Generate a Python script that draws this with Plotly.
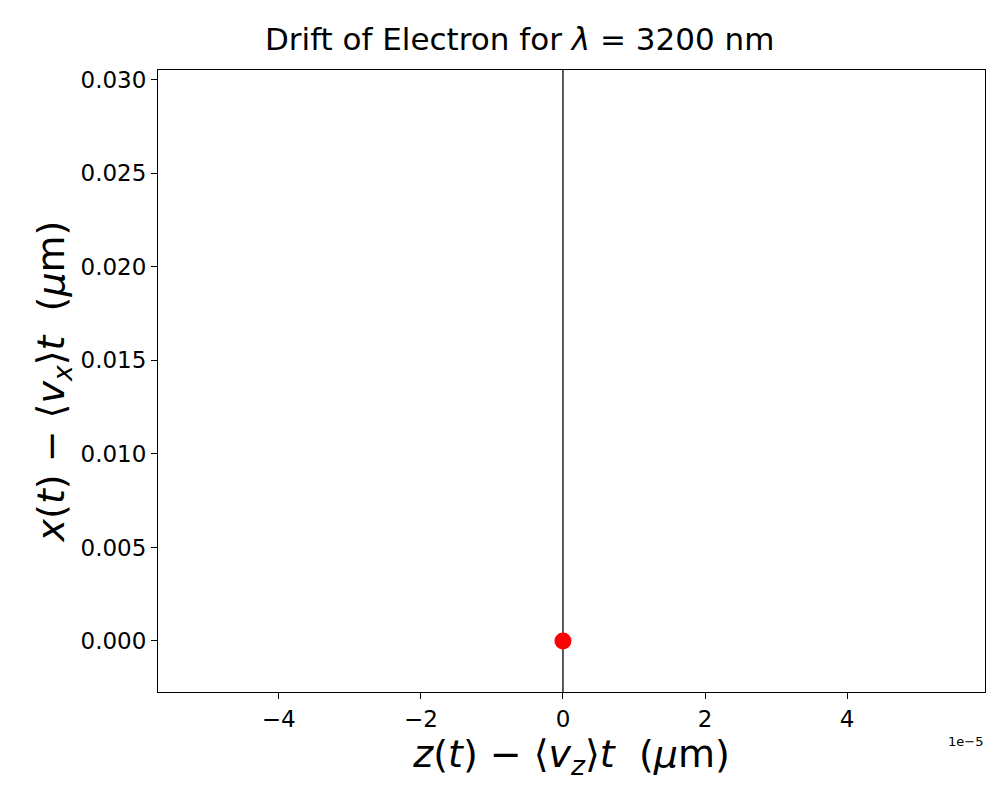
import plotly.graph_objects as go

# trajectory (drift-subtracted)
traj_z = [0.0, 0.0]
traj_x = [-0.0035, 0.0315]
# electron marker
dot_z = [0.0]
dot_x = [0.0]

x_ticks = [-4e-5, -2e-5, 0, 2e-5, 4e-5]
x_labels = ["−4", "−2", "0", "2", "4"]
y_ticks = [0.000, 0.005, 0.010, 0.015, 0.020, 0.025, 0.030]
y_labels = ["%.3f" % v for v in y_ticks]

fig = go.Figure()
fig.add_trace(go.Scatter(x=traj_z, y=traj_x, mode="lines",
                         line=dict(color="black", width=1.3), showlegend=False))
fig.add_trace(go.Scatter(x=dot_z, y=dot_x, mode="markers",
                         marker=dict(color="red", size=17), showlegend=False))

axis_common = dict(showgrid=False, zeroline=False, showline=True, mirror=True,
                   linecolor="black", linewidth=1, ticks="outside", ticklen=6,
                   tickcolor="black", tickfont=dict(size=23, color="black"))

fig.update_xaxes(range=[-5.70e-5, 5.94e-5], tickvals=x_ticks, ticktext=x_labels,
                 title=dict(text="<i>z</i>(<i>t</i>) − ⟨<i>v<sub>z</sub></i>⟩<i>t</i>  (<i>μ</i>m)",
                            font=dict(size=38, color="black"), standoff=4),
                 **axis_common)
fig.update_yaxes(range=[-0.00273, 0.03053], tickvals=y_ticks, ticktext=y_labels,
                 title=dict(text="<i>x</i>(<i>t</i>) − ⟨<i>v<sub>x</sub></i>⟩<i>t</i>  (<i>μ</i>m)",
                            font=dict(size=38, color="black"), standoff=4),
                 **axis_common)

fig.add_annotation(text="1e−5", xref="paper", yref="paper", x=1, y=0,
                   xanchor="right", yanchor="top", yshift=-40, showarrow=False,
                   font=dict(size=13, color="black"))

fig.update_layout(
    width=984, height=784,
    title=dict(text="Drift of Electron for <i>λ</i> = 3200 nm", x=0.52, xanchor="center",
               y=0.96, yanchor="middle", font=dict(size=31, color="black")),
    font=dict(family="DejaVu Sans", color="black"),
    plot_bgcolor="white", paper_bgcolor="white",
    margin=dict(l=150, r=7, t=62, b=100),
)

fig.write_html("out.html")
